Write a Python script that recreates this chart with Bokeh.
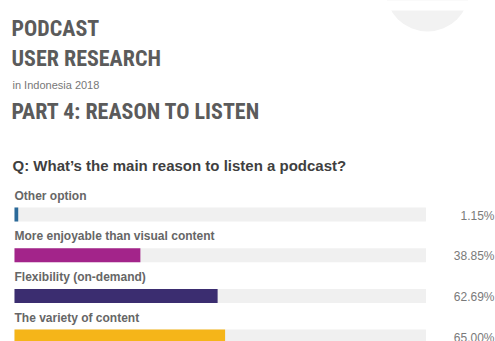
from bokeh.plotting import figure
from bokeh.models import Range1d, Label, ColumnDataSource
from bokeh.core.properties import value
from bokeh.embed import file_html
from bokeh.resources import INLINE

categories = ["Other option", "More enjoyable than visual content", "Flexibility (on-demand)", "The variety of content"]
values = [1.15, 38.85, 62.69, 65.00]
value_labels = ["1.15%", "38.85%", "62.69%", "65.00%"]
colors = ["#2b6a9a", "#a3248a", "#3b2d70", "#f5b519"]
track_max = 127.0

W, H = 495, 341
px_per_unit = 3.24
x0_px = 14
row_px = 40.7
first_row_px = 214

x_start = -x0_px / px_per_unit
x_end = (W - x0_px) / px_per_unit
y_top = -first_row_px / row_px
y_bottom = (H - first_row_px) / row_px

p = figure(width=W, height=H, output_backend="svg", toolbar_location=None,
           x_range=Range1d(x_start, x_end), y_range=Range1d(y_bottom, y_top),
           min_border=0, min_border_left=0, min_border_right=0,
           min_border_top=0, min_border_bottom=0)
p.axis.visible = False
p.grid.visible = False
p.outline_line_color = None
p.background_fill_color = "white"
p.border_fill_color = "white"

# decorative circle top right, with white strip above
p.ellipse(x=(427 - x0_px) / px_per_unit, y=(-11 - first_row_px) / row_px,
          width=84, height=84, width_units="screen", height_units="screen",
          fill_color="#f2f2f2", line_color=None)
p.quad(left=x_start, right=x_end, top=y_top, bottom=(10 - first_row_px) / row_px,
       fill_color="white", line_color=None)

ys = list(range(len(categories)))
src = ColumnDataSource(dict(y=ys, cat=categories, val=values, lab=value_labels,
                            color=colors, track=[track_max] * len(categories),
                            xend=[x_end] * len(categories)))

bar_h = 14 / row_px
p.hbar(y="y", left=0, right="track", height=bar_h, source=src,
       fill_color="#f0f0f0", line_color=None)
p.hbar(y="y", left=0, right="val", height=bar_h, source=src,
       fill_color="color", line_color=None)

p.text(x=0, y="y", text="cat", source=src, y_offset=-19, x_offset=0,
       text_baseline="middle", text_align="left",
       text_font=value("Liberation Sans"), text_font_style="bold",
       text_font_size="12px", text_color="#666666")
p.text(x="xend", y="y", text="lab", source=src, x_offset=-1, y_offset=1,
       text_baseline="middle", text_align="right",
       text_font=value("Liberation Sans"), text_font_size="12px",
       text_color="#7a7a7a")

cond = "'Roboto Condensed', 'Liberation Sans Narrow', 'DejaVu Sans Condensed', sans-serif"

def add_label(txt, x, y_px, size, font, style, color, baseline="middle"):
    p.add_layout(Label(x=x, y=H - y_px, x_units="screen", y_units="screen",
                       text=txt, text_font=font, text_font_style=style,
                       text_font_size=size, text_color=color,
                       text_baseline=baseline, text_align="left"))

add_label("PODCAST", 11, 28, "22px", cond, "bold", "#5b5b5b")
add_label("USER RESEARCH", 11, 58, "22px", cond, "bold", "#5b5b5b")
add_label("in Indonesia 2018", 12, 84, "11px", "Liberation Sans", "normal", "#777777")
add_label("PART 4: REASON TO LISTEN", 11, 111, "22px", cond, "bold", "#5b5b5b")
add_label("Q: What\u2019s the main reason to listen a podcast?", 12, 165, "15px",
          "Liberation Sans", "bold", "#3f3f3f")

open("out.html", "w").write(file_html(p, INLINE))
